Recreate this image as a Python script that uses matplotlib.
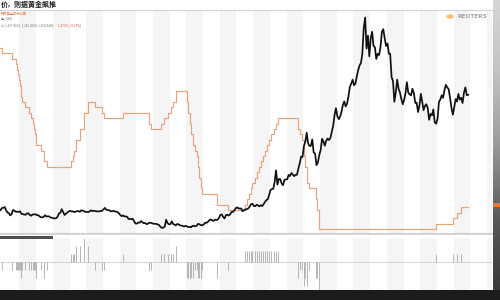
import numpy as np
import pandas as pd
import matplotlib
matplotlib.use("Agg")
import matplotlib.pyplot as plt
from matplotlib.colors import LinearSegmentedColormap
from matplotlib.patches import Rectangle, Circle
from matplotlib.lines import Line2D

plt.rcParams['font.family'] = ['Noto Sans CJK SC', 'DejaVu Sans']

# gold, monthly (Nov 1989 - Nov 2017), USD/oz
gold_start = "1989-11-01"
gold = [392, 409,
        410, 417, 393, 374, 369, 352, 362, 394, 388, 380, 381, 378,
        384, 364, 363, 358, 357, 367, 368, 356, 349, 358, 360, 361,
        354, 354, 345, 338, 337, 341, 353, 343, 345, 344, 335, 334,
        329, 329, 330, 342, 367, 372, 400, 379, 355, 364, 374, 383,
        387, 382, 384, 377, 381, 385, 385, 380, 391, 389, 384, 379,
        379, 377, 382, 391, 385, 387, 386, 383, 383, 383, 386, 387,
        400, 410, 396, 393, 392, 385, 383, 387, 383, 381, 378, 369,
        355, 346, 352, 344, 344, 341, 324, 324, 323, 325, 306, 289,
        289, 297, 296, 308, 299, 292, 293, 284, 289, 296, 294, 291,
        287, 287, 286, 282, 277, 262, 256, 257, 265, 318, 293, 283,
        284, 305, 286, 280, 275, 286, 282, 275, 273, 270, 266, 272,
        266, 262, 263, 261, 272, 270, 268, 273, 287, 283, 276, 276,
        282, 296, 294, 302, 314, 321, 314, 310, 319, 317, 319, 333,
        357, 359, 340, 328, 355, 356, 351, 360, 379, 379, 389, 407,
        414, 405, 406, 404, 384, 392, 398, 400, 406, 420, 439, 442,
        424, 423, 434, 429, 422, 431, 424, 438, 456, 470, 476, 510,
        549, 555, 557, 610, 700, 590, 633, 632, 598, 585, 627, 629,
        631, 665, 655, 679, 667, 655, 665, 665, 713, 754, 806, 803,
        889, 922, 990, 909, 888, 889, 939, 839, 829, 740, 760, 816,
        858, 943, 924, 890, 928, 946, 934, 949, 996, 1043, 1127, 1180,
        1118, 1095, 1114, 1148, 1205, 1232, 1193, 1215, 1271, 1342, 1370, 1400,
        1356, 1372, 1424, 1473, 1510, 1529, 1600, 1800, 1880, 1640, 1740, 1580,
        1720, 1770, 1660, 1650, 1560, 1600, 1590, 1650, 1770, 1790, 1720, 1660,
        1680, 1600, 1600, 1420, 1390, 1230, 1300, 1400, 1330, 1300, 1250, 1210,
        1244, 1300, 1380, 1299, 1287, 1279, 1330, 1296, 1220, 1222, 1150, 1200,
        1290, 1227, 1165, 1198, 1210, 1181, 1090, 1135, 1125, 1170, 1070, 1060,
        1097, 1230, 1246, 1280, 1260, 1320, 1360, 1340, 1326, 1260, 1180, 1130,
        1192, 1250, 1231, 1290, 1246, 1260, 1220, 1300, 1340, 1280, 1283]

# policy rate target (%), step dates
rate_dates = ["1989-11-01", "1989-12-20", "1990-07-13", "1990-10-29", "1990-11-13", "1990-12-07",
              "1990-12-18", "1991-01-09", "1991-02-01", "1991-03-08", "1991-04-30", "1991-08-06",
              "1991-09-13", "1991-10-31", "1991-11-06", "1991-12-06", "1991-12-20", "1992-04-09",
              "1992-07-02", "1992-09-04", "1994-02-04", "1994-03-22", "1994-04-18", "1994-05-17",
              "1994-08-16", "1994-11-15", "1995-02-01", "1995-07-06", "1995-12-19", "1996-01-31",
              "1997-03-25", "1998-09-29", "1998-10-15", "1998-11-17", "1999-06-30", "1999-08-24",
              "1999-11-16", "2000-02-02", "2000-03-21", "2000-05-16", "2001-01-03", "2001-01-31",
              "2001-03-20", "2001-04-18", "2001-05-15", "2001-06-27", "2001-08-21", "2001-09-17",
              "2001-10-02", "2001-11-06", "2001-12-11", "2002-11-06", "2003-06-25", "2004-06-30",
              "2004-08-10", "2004-09-21", "2004-11-10", "2004-12-14", "2005-02-02", "2005-03-22",
              "2005-05-03", "2005-06-30", "2005-08-09", "2005-09-20", "2005-11-01", "2005-12-13",
              "2006-01-31", "2006-03-28", "2006-05-10", "2006-06-29", "2007-09-18", "2007-10-31",
              "2007-12-11", "2008-01-22", "2008-01-30", "2008-03-18", "2008-04-30", "2008-10-08",
              "2008-10-29", "2008-12-16", "2015-12-16", "2016-12-14", "2017-03-15", "2017-06-14",
              "2017-11-13"]
rate_vals = [8.5, 8.25, 8.0, 7.75, 7.5, 7.25, 7.0, 6.75, 6.25, 6.0, 5.75, 5.5, 5.25, 5.0, 4.75,
             4.5, 4.0, 3.75, 3.25, 3.0, 3.25, 3.5, 3.75, 4.25, 4.75, 5.5, 6.0, 5.75, 5.5, 5.25,
             5.5, 5.25, 5.0, 4.75, 5.0, 5.25, 5.5, 5.75, 6.0, 6.5, 6.0, 5.5, 5.0, 4.5, 4.0, 3.75,
             3.5, 3.0, 2.5, 2.0, 1.75, 1.25, 1.0, 1.25, 1.5, 1.75, 2.0, 2.25, 2.5, 2.75, 3.0,
             3.25, 3.5, 3.75, 4.0, 4.25, 4.5, 4.75, 5.0, 5.25, 4.75, 4.5, 4.25, 3.5, 3.0, 2.25,
             2.0, 1.5, 1.0, 0.125, 0.375, 0.625, 0.875, 1.125, 1.125]

# rate moves shown in the lower panel (same dates, without the first and last)
chg_vals = ([-0.25] * 7 + [-0.5] + [-0.25] * 7 + [-0.5, -0.25, -0.5, -0.25]
            + [0.25, 0.25, 0.25, 0.5, 0.5, 0.75]
            + [0.5, -0.25, -0.25, -0.25, 0.25, -0.25, -0.25, -0.25]
            + [0.25, 0.25, 0.25, 0.25, 0.25, 0.5]
            + [-0.5, -0.5, -0.5, -0.5, -0.5, -0.25, -0.25, -0.5, -0.5, -0.5, -0.25, -0.5, -0.25]
            + [0.35] * 17
            + [-0.5, -0.25, -0.25, -0.75, -0.5, -0.75, -0.25, -0.5, -0.5, -0.875]
            + [0.25, 0.25, 0.25, 0.25])

years = list(range(1990, 2020))

W, H = 500, 300


def box(l, t, r, b):
    return [l / W, 1 - b / H, (r - l) / W, (b - t) / H]


gold_dates = pd.date_range(gold_start, periods=len(gold), freq="MS") + pd.Timedelta(days=14)
rdates = pd.to_datetime(rate_dates)
chg_dates = rdates[1:-1]
x0, x1 = pd.Timestamp("1989-11-03"), pd.Timestamp("2019-04-20")

fig = plt.figure(figsize=(5, 3), dpi=100)

# main panel
ax = fig.add_axes(box(0, 10, 492, 233))
for yr in range(1991, 2020, 2):
    ax.axvspan(pd.Timestamp(f"{yr}-01-01"), pd.Timestamp(f"{yr + 1}-01-01"), color="#f5f5f5", lw=0)
ax.step(rdates, rate_vals, where="post", color="#e9a27c", lw=0.85)
ax.set_xlim(x0, x1)
ax.set_ylim(-0.06, 10.26)
ax.set_xticks([])
ax.set_yticks([])
for s in ["left", "right"]:
    ax.spines[s].set_visible(False)
for s in ["top", "bottom"]:
    ax.spines[s].set_color("#cfcfcf")
    ax.spines[s].set_linewidth(0.8)

ax2 = ax.twinx()
ax2.plot(gold_dates, gold, color="#111111", lw=1.25)
ax2.set_ylim(216, 1938)
ax2.set_yticks([])
ax2.set_xlim(x0, x1)
for s in ax2.spines.values():
    s.set_visible(False)

# lower panel: rate moves
axl = fig.add_axes(box(0, 238, 492, 290))
for yr in range(1991, 2020, 2):
    axl.axvspan(pd.Timestamp(f"{yr}-01-01"), pd.Timestamp(f"{yr + 1}-01-01"), color="#f5f5f5", lw=0)
axl.axhline(0, color="#cdcdcd", lw=0.6)
axl.vlines(chg_dates, 0, chg_vals, color="#aaaaaa", lw=0.6)
axl.set_xlim(x0, x1)
axl.set_ylim(-0.875, 0.75)
axl.axis("off")

# navigator bar
fig.add_artist(Line2D([0, 492 / W], [1 - 234 / H] * 2, color="#d0d0d0", lw=0.6))
fig.add_artist(Rectangle((0, 1 - 238.5 / H), 53 / W, 3 / H, color="#505050", lw=0))

# bottom date strip
fig.add_artist(Rectangle((0, 0), 1, 10 / H, color="#1c1c1c", lw=0))
axb = fig.add_axes(box(0, 290, 492, 300))
axb.set_xlim(x0, x1)
axb.set_ylim(0, 1)
axb.axis("off")
for yr in years:
    axb.text(pd.Timestamp(f"{yr}-01-01"), 0.62, str(yr), fontsize=2.3, color="#9a9a9a",
             ha="center", va="center")

# right value strip
axr = fig.add_axes(box(493, 0, 500, 290))
cm = LinearSegmentedColormap.from_list("strip", ["#d6d6d6", "#c2c2c2", "#9a9a9a", "#5a5a5a", "#3a3a3a"])
axr.imshow(np.linspace(0, 1, 100).reshape(-1, 1), aspect="auto", cmap=cm, extent=[0, 1, 290, 0])
axr.add_patch(Rectangle((0, 203), 1, 4, color="#e4783c", lw=0))
axr.set_xlim(0, 1)
axr.set_ylim(290, 0)
axr.axis("off")

# header texts
fig.text(0.002, 1 - 4.5 / H, "价，则据黄金飙推", fontsize=5, fontweight="bold", color="#222222",
         ha="left", va="center")
fig.add_artist(Line2D([0, 1], [1 - 9.5 / H] * 2, color="#d5d5d5", lw=0.6))
fig.text(0.002, 1 - 13.5 / H, "联邦基金目标利率", fontsize=2.3, color="#e07a4a", ha="left", va="center")
fig.text(0.002, 1 - 18 / H, "金, XAU", fontsize=2.3, color="#777777", ha="left", va="center")
fig.text(0.002, 1 - 25 / H, "al, 1,257.8600, 1,282.4600, 1,264.8400,", fontsize=2.2,
         color="#777777", ha="left", va="center")
fig.text(58 / W, 1 - 25 / H, "1,276.5, (-0.15%)", fontsize=2.2, color="#e0503c", ha="left", va="center")

# logo
fig.add_artist(Circle((450 / W, 1 - 16.5 / H), 3.8 / W, color="#f2b25a", alpha=0.8, lw=0,
                      transform=fig.transFigure))
fig.text(457 / W, 1 - 17 / H, "REUTERS", fontsize=4.2, fontweight="bold", color="#a3a3a3",
         ha="left", va="center", family="DejaVu Sans")

fig.savefig("out.png", dpi=100)
